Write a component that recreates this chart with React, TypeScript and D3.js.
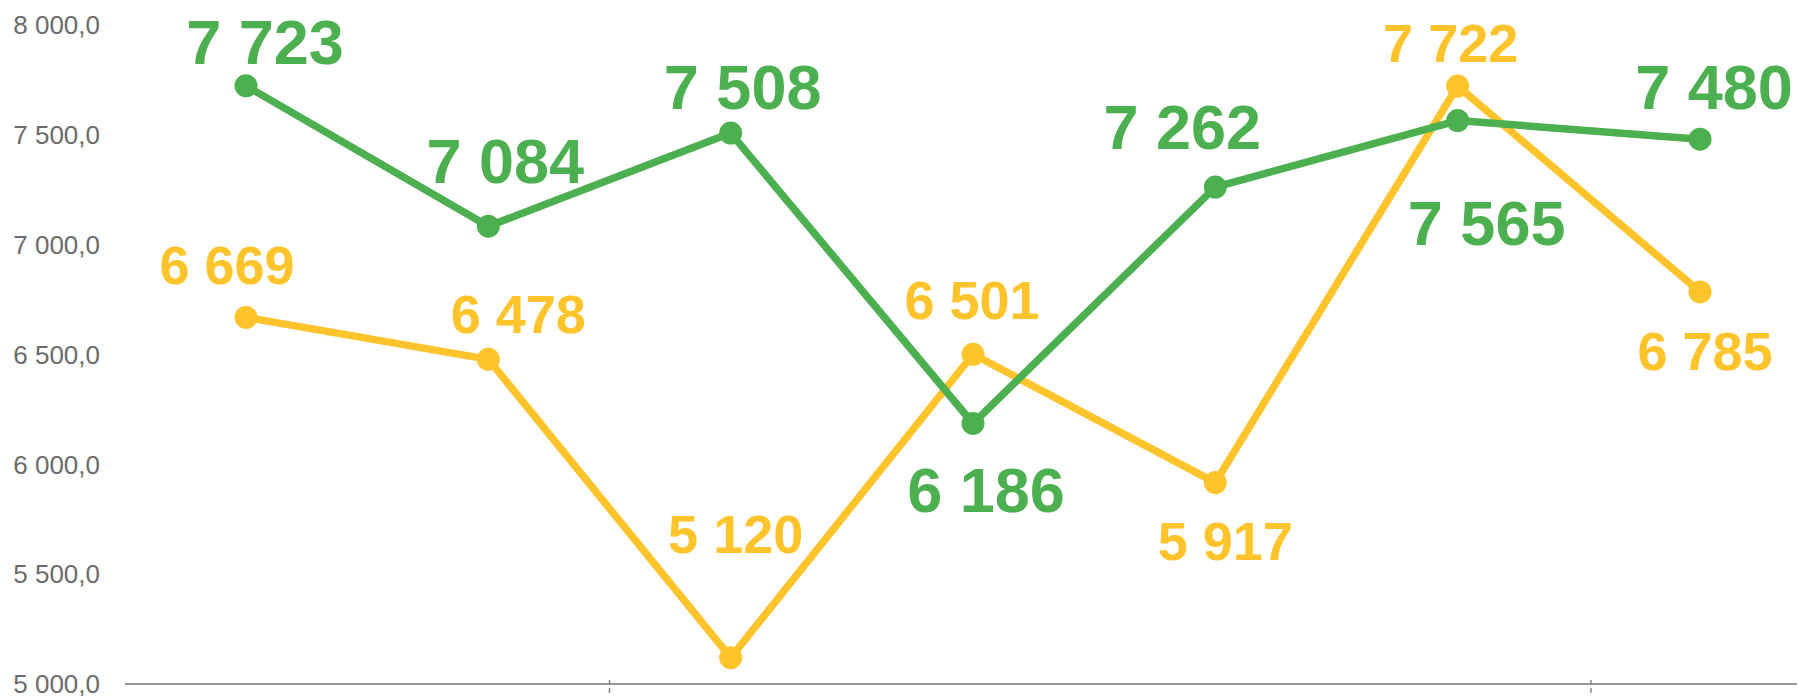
import React from "react";
import * as d3 from "d3";

// ---- data ----
const categories = ["1", "2", "3", "4", "5", "6", "7"];
const greenValues = [7723, 7084, 7508, 6186, 7262, 7565, 7480];
const yellowValues = [6669, 6478, 5120, 6501, 5917, 7722, 6785];
const yTicks = [5000, 5500, 6000, 6500, 7000, 7500, 8000];
const xTickPositions = [1.5, 5.55]; // fractional category index of the x-axis tick marks

// ---- layout (label offsets from point, in px; center of digits) ----
const greenLabelOffsets: [number, number][] = [
  [19, -44], [17, -66], [12, -47], [13, 66], [-33, -61], [29, 102], [14, -53],
];
const yellowLabelOffsets: [number, number][] = [
  [-19, -53], [30, -46], [5, -124], [-1, -55], [10, 58], [-7, -43], [5, 59],
];

const W = 1798;
const H = 696;
const GREEN = "#4CAF50";
const YELLOW = "#FFC32C";
const FONT = "'Liberation Sans', Arial, Helvetica, sans-serif";

const fmtInt = (v: number) => {
  const s = Math.round(v).toString();
  return s.replace(/\B(?=(\d{3})+(?!\d))/g, " ");
};
const fmtAxis = (v: number) => fmtInt(v) + ",0";

export default function App() {
  const x = d3.scaleLinear().domain([0, categories.length - 1]).range([246, 1700]);
  const y = d3.scaleLinear().domain([5000, 8000]).range([684, 25]);

  const line = d3
    .line<number>()
    .x((_, i) => x(i))
    .y((d) => y(d));

  const series = [
    { values: yellowValues, color: YELLOW, offsets: yellowLabelOffsets, fs: 54 },
    { values: greenValues, color: GREEN, offsets: greenLabelOffsets, fs: 63 },
  ];

  return (
    <svg
      width={W}
      height={H}
      style={{ position: "absolute", left: 0, top: 0, background: "#fff" }}
      fontFamily={FONT}
    >
      {/* y axis labels */}
      {yTicks.map((t) => (
        <text
          key={t}
          x={100}
          y={y(t) + 26 * 0.358}
          textAnchor="end"
          fontSize={26}
          fill="#6b6b6b"
        >
          {fmtAxis(t)}
        </text>
      ))}
      {/* x axis */}
      <line x1={125} x2={1797} y1={y(5000)} y2={y(5000)} stroke="#9a9a9a" strokeWidth={2} />
      {xTickPositions.map((p, i) => (
        <line
          key={i}
          x1={x(p)}
          x2={x(p)}
          y1={y(5000) - 4}
          y2={y(5000) + 11}
          stroke="#8a8a8a"
          strokeWidth={1.5}
          strokeDasharray="5,3"
        />
      ))}
      {/* lines */}
      {series.map((s, si) => (
        <g key={si}>
          <path d={line(s.values) || ""} fill="none" stroke={s.color} strokeWidth={7.5} strokeLinejoin="round" />
          {s.values.map((v, i) => (
            <circle key={i} cx={x(i)} cy={y(v)} r={11.5} fill={s.color} />
          ))}
        </g>
      ))}
      {/* labels */}
      {series.map((s, si) => (
        <g key={"l" + si}>
          {s.values.map((v, i) => (
            <text
              key={i}
              x={x(i) + s.offsets[i][0]}
              y={y(v) + s.offsets[i][1] + s.fs * 0.358}
              textAnchor="middle"
              fontSize={s.fs}
              fontWeight="bold"
              fill={s.color}
            >
              {fmtInt(v)}
            </text>
          ))}
        </g>
      ))}
    </svg>
  );
}
